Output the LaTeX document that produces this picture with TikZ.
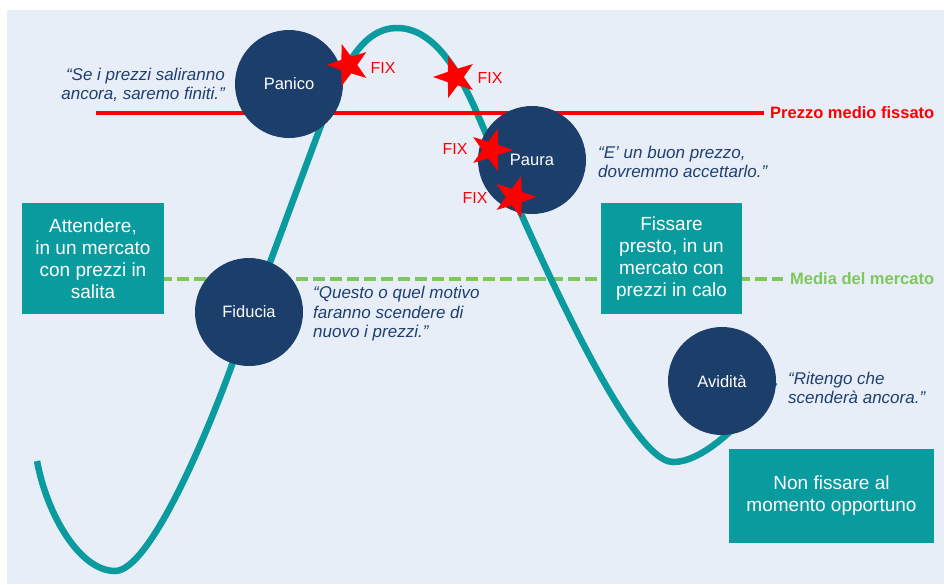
\documentclass[tikz,border=0pt]{standalone}
\usepackage{fontspec}
\setmainfont{Liberation Sans}
\usetikzlibrary{shapes.geometric}
\definecolor{bgblue}{HTML}{E8EEF8}
\definecolor{tealx}{HTML}{0A9B9F}
\definecolor{navyx}{HTML}{1B3E6B}
\definecolor{redx}{HTML}{FF0000}
\definecolor{greenx}{HTML}{7CC85A}
\definecolor{quotec}{HTML}{1F3F6E}
\begin{document}
\begin{tikzpicture}[x=1pt,y=-1pt,
  bubble/.style={circle, fill=navyx, minimum size=108pt, inner sep=0pt, text=white, font=\fontsize{16.5}{19}\selectfont},
  tbox/.style={rectangle, fill=tealx, text=white, align=center, font=\fontsize{19}{22}\selectfont, inner sep=0pt},
  quote/.style={text=quotec, inner sep=0pt, font=\fontsize{17}{19.5}\selectfont\itshape},
  fixstar/.style={star, star points=5, star point ratio=2.5, fill=redx, draw=none, minimum size=44pt, inner sep=0pt},
  fixlabel/.style={text=redx, inner sep=0pt, font=\fontsize{16}{19}\selectfont},
  curveline/.style={draw=tealx, line width=6.5pt},
  linelabel/.style={inner sep=0pt, anchor=west, font=\fontsize{16.5}{19}\selectfont\bfseries},
]
\useasboundingbox (0,0) rectangle (944,584);
\fill[white] (0,0) rectangle (944,584);
\fill[bgblue] (7,10) rectangle (944,584);

% level lines
\coordinate (redstart) at (96,113);
\node[linelabel, text=redx] (redlabel) at (770,113) {Prezzo medio fissato};
\coordinate (greenstart) at (160,279);
\node[linelabel, text=greenx] (greenlabel) at (790,279) {Media del mercato};
\draw[greenx, line width=4.5pt, dash pattern=on 12pt off 5pt] (greenstart) -- ([xshift=-7pt]greenlabel.west);

% price curve
\draw[curveline] (37,461) .. controls (47,515) and (80,571) .. (115,571)
  .. controls (150,571) and (208,432) .. (233,362)
  -- (320,128)
  .. controls (340,74) and (360,28) .. (397,28)
  .. controls (435,28) and (460,74) .. (477,113)
  .. controls (517,205) and (625,462) .. (673,462)
  .. controls (705,462) and (745,420) .. (775,382);

\draw[redx, line width=4pt] (redstart) -- ([xshift=-6pt]redlabel.west);

% boxes
\node[tbox, minimum width=142pt, minimum height=111pt] (attendere) at (93,258.5) {Attendere,\\in un mercato\\con prezzi in\\salita};
\node[tbox, minimum width=141pt, minimum height=111pt] (fissare) at (671.5,258.5) {Fissare\\presto, in un\\mercato con\\prezzi in calo};
\node[tbox, minimum width=205pt, minimum height=94pt] (nonfissare) at (831.5,496) {Non fissare al\\momento opportuno};

% emotion bubbles
\node[bubble] (panico) at (289,84) {Panico};
\node[bubble] (paura) at (532,160) {Paura};
\node[bubble] (fiducia) at (249,312) {Fiducia};
\node[bubble] (avidita) at (722,381) {Avidità};

% quotes
\node[quote, anchor=east, align=right] (qpanico) at (225,85) {“Se i prezzi saliranno\\ancora, saremo finiti.”};
\node[quote, anchor=west, align=left] (qpaura) at (598,162) {“E’ un buon prezzo,\\dovremmo accettarlo.”};
\node[quote, anchor=west, align=left] (qfiducia) at (313,314) {“Questo o quel motivo\\faranno scendere di\\nuovo i prezzi.”};
\node[quote, anchor=west, align=left] (qavidita) at (788,388) {“Ritengo che\\scenderà ancora.”};

% FIX stars
\node[fixstar, shape border rotate=90] (s1) at (348.5,65) {};
\node[fixstar, shape border rotate=90] (s2) at (455,77) {};
\node[fixstar, shape border rotate=-90] (s3) at (491,150) {};
\node[fixstar, shape border rotate=-90] (s4) at (514.5,197) {};
\node[fixlabel] (f1) at (383,68) {FIX};
\node[fixlabel] (f2) at (490,78) {FIX};
\node[fixlabel] (f3) at (455,149) {FIX};
\node[fixlabel] (f4) at (475,198) {FIX};
\end{tikzpicture}
\end{document}
